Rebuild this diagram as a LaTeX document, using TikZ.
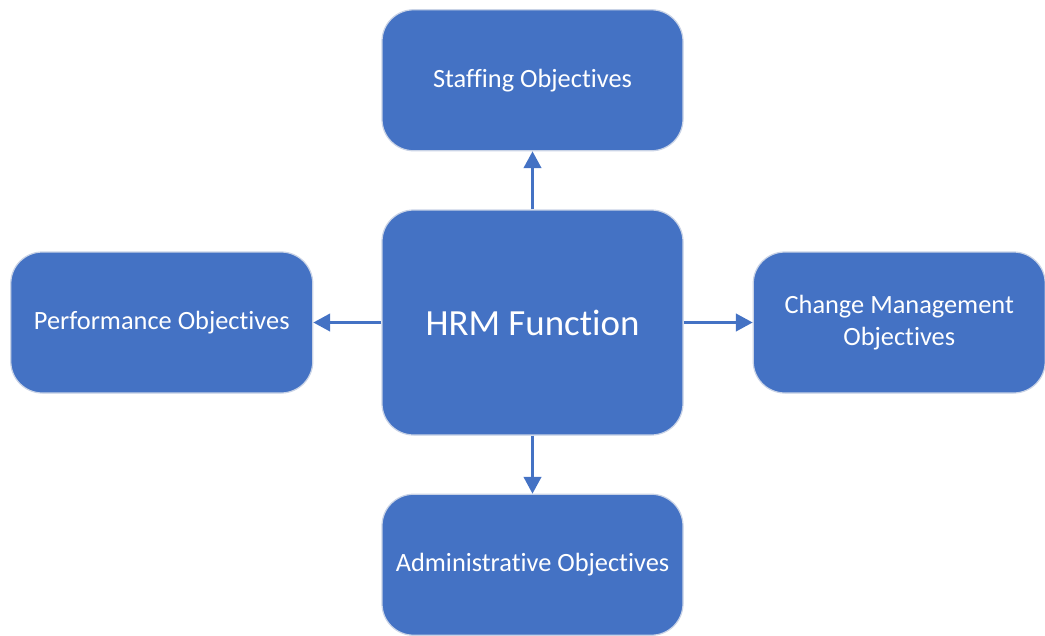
\documentclass[tikz,border=0pt]{standalone}
\usepackage{fontspec}
\setmainfont[Ligatures={NoCommon,NoContextual}, RawFeature={-liga;-clig;-calt}]{Carlito}
\usetikzlibrary{shapes,arrows.meta,positioning}

\definecolor{boxblue}{HTML}{4472C4}
\definecolor{boxedge}{HTML}{C9D3E6}

\begin{document}
\begin{tikzpicture}[
        node distance=1.16cm and 1.38cm,
        objbox/.style={rectangle, rounded corners=18pt, draw=boxedge, line width=0.7pt, fill=boxblue,
            minimum height=2.82cm, minimum width=6.02cm, align=center, text=white,
            font=\fontsize{15pt}{18pt}\selectfont},
        link/.style={-{Triangle[width=10pt,length=9.5pt]}, line width=1.2pt, draw=boxblue}
    ]
    \useasboundingbox (0,0) rectangle (20.9,-12.7);

    % Central function node
    \node[objbox, minimum height=4.5cm, font=\fontsize{21pt}{25pt}\selectfont] (hrm) at (10.65,-6.45) {HRM Function};

    % Objective nodes around it
    \node[objbox, above=of hrm] (staff) {Staffing Objectives};
    \node[objbox, below=of hrm] (admin) {Administrative Objectives};
    \node[objbox, left=1.36cm of hrm, minimum width=6.04cm] (perf) {Performance Objectives};
    \node[objbox, right=of hrm, minimum width=5.84cm] (change) {Change Management\\Objectives};

    % Links
    \draw[link] (hrm) -- (staff);
    \draw[link] (hrm) -- (admin);
    \draw[link] (hrm) -- (perf);
    \draw[link] (hrm) -- (change);
\end{tikzpicture}
\end{document}
